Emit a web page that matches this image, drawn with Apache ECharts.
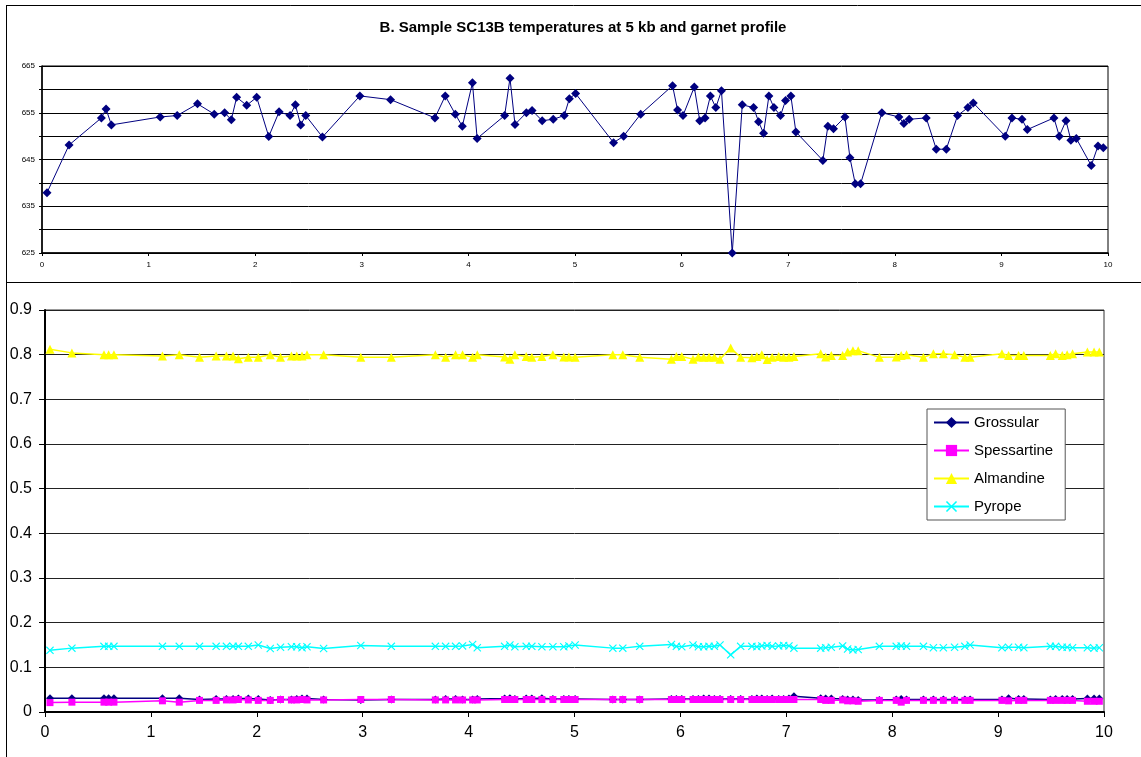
<!DOCTYPE html>
<html>
<head>
<meta charset="utf-8">
<script src="https://cdn.jsdelivr.net/npm/echarts@6/dist/echarts.min.js"></script>
<style>
html,body{margin:0;padding:0;background:#fff;}
#chart{width:1141px;height:757px;}
</style>
</head>
<body>
<div id="chart"></div>
<script>
const titleText = "B. Sample SC13B temperatures at 5 kb and garnet profile";
const seriesNames = ["Grossular", "Spessartine", "Almandine", "Pyrope"];

const distance = [0.047,0.254,0.557,0.601,0.651,1.109,1.268,1.459,1.616,1.713,
1.776,1.826,1.920,2.014,2.127,2.224,2.327,2.377,2.427,2.474,
2.631,2.982,3.270,3.686,3.783,3.877,3.943,4.038,4.082,4.340,
4.390,4.437,4.544,4.597,4.692,4.796,4.899,4.947,5.006,5.362,
5.456,5.616,5.915,5.962,6.013,6.119,6.170,6.220,6.270,6.321,
6.374,6.475,6.569,6.675,6.722,6.769,6.819,6.866,6.928,6.975,
7.025,7.072,7.325,7.372,7.425,7.532,7.579,7.629,7.679,7.879,
8.038,8.085,8.135,8.295,8.389,8.483,8.589,8.686,8.736,9.036,
9.099,9.193,9.243,9.493,9.543,9.606,9.652,9.703,9.843,9.906,9.956];

const temperature = [637.9,648.1,653.9,655.8,652.4,654.1,654.4,656.9,654.7,655.0,
653.5,658.3,656.6,658.3,649.9,655.2,654.4,656.7,652.4,654.4,
649.8,658.6,657.8,653.9,658.6,654.7,652.1,661.4,649.5,654.4,
662.4,652.5,655.0,655.5,653.3,653.6,654.4,658.0,659.1,648.6,
650.0,654.7,660.8,655.6,654.4,660.5,653.3,653.9,658.6,656.1,
659.7,625.0,656.7,656.1,653.1,650.6,658.6,656.1,654.4,657.6,
658.6,650.9,644.8,652.1,651.6,654.1,645.4,639.8,639.8,655.0,
654.1,652.7,653.6,653.9,647.2,647.2,654.4,656.1,657.1,650.0,
653.9,653.6,651.4,653.9,650.0,653.3,649.1,649.5,643.7,647.9,647.5];

const grossular = [0.031,0.031,0.031,0.031,0.031,0.031,0.031,0.028,0.029,0.029,
0.029,0.030,0.030,0.029,0.027,0.028,0.028,0.029,0.030,0.030,
0.028,0.027,0.028,0.028,0.029,0.029,0.028,0.028,0.029,0.030,
0.031,0.029,0.030,0.030,0.031,0.029,0.029,0.029,0.029,0.028,
0.028,0.028,0.029,0.029,0.029,0.029,0.029,0.030,0.030,0.029,
0.029,0.029,0.029,0.029,0.030,0.030,0.029,0.030,0.029,0.029,
0.030,0.035,0.031,0.030,0.030,0.029,0.028,0.028,0.027,0.027,
0.028,0.029,0.028,0.028,0.028,0.028,0.028,0.028,0.028,0.028,
0.031,0.029,0.029,0.028,0.029,0.029,0.029,0.029,0.030,0.030,0.030];

const spessartine = [0.021,0.022,0.022,0.022,0.022,0.025,0.022,0.026,0.026,0.027,
0.027,0.028,0.027,0.026,0.026,0.028,0.027,0.027,0.028,0.027,
0.027,0.028,0.028,0.027,0.027,0.027,0.027,0.027,0.027,0.028,
0.028,0.028,0.028,0.028,0.028,0.028,0.028,0.028,0.028,0.028,
0.028,0.028,0.028,0.028,0.028,0.028,0.028,0.028,0.028,0.028,
0.028,0.028,0.028,0.028,0.028,0.028,0.028,0.028,0.028,0.028,
0.028,0.028,0.028,0.026,0.026,0.027,0.025,0.025,0.024,0.026,
0.026,0.022,0.026,0.026,0.026,0.026,0.026,0.026,0.026,0.026,
0.025,0.026,0.026,0.026,0.026,0.026,0.026,0.026,0.024,0.024,0.024];

const almandine = [0.812,0.804,0.800,0.800,0.800,0.797,0.800,0.794,0.797,0.797,
0.797,0.791,0.794,0.794,0.800,0.794,0.797,0.797,0.797,0.800,
0.800,0.794,0.794,0.800,0.794,0.800,0.800,0.794,0.800,0.795,
0.790,0.800,0.796,0.794,0.796,0.800,0.795,0.795,0.794,0.800,
0.800,0.794,0.790,0.796,0.796,0.790,0.795,0.794,0.794,0.794,
0.790,0.815,0.794,0.793,0.796,0.800,0.789,0.794,0.796,0.794,
0.794,0.796,0.802,0.795,0.798,0.798,0.806,0.809,0.809,0.794,
0.795,0.798,0.800,0.794,0.802,0.802,0.800,0.794,0.794,0.802,
0.798,0.798,0.798,0.798,0.802,0.798,0.800,0.802,0.806,0.806,0.806];

const pyrope = [0.138,0.143,0.147,0.147,0.147,0.147,0.147,0.147,0.147,0.147,
0.147,0.147,0.147,0.150,0.142,0.145,0.146,0.146,0.144,0.146,
0.142,0.149,0.147,0.147,0.147,0.147,0.148,0.151,0.144,0.147,
0.150,0.146,0.147,0.147,0.146,0.146,0.146,0.148,0.150,0.143,
0.143,0.147,0.151,0.147,0.146,0.150,0.146,0.146,0.147,0.147,
0.150,0.128,0.147,0.147,0.146,0.148,0.149,0.147,0.148,0.149,
0.148,0.143,0.143,0.144,0.145,0.148,0.141,0.139,0.140,0.147,
0.147,0.148,0.147,0.147,0.144,0.144,0.145,0.147,0.150,0.144,
0.145,0.145,0.144,0.147,0.147,0.145,0.145,0.144,0.144,0.143,0.144];

const pair = arr => distance.map((d, i) => [d, arr[i]]);
const FONT = "'Liberation Sans', Arial, sans-serif";
const crossPath = 'path://M0,1 L1,0 L5,4 L9,0 L10,1 L6,5 L10,9 L9,10 L5,6 L1,10 L0,9 L4,5 Z';

const chart = echarts.init(document.getElementById('chart'), null, {renderer: 'canvas'});
const option = {
  animation: false,
  backgroundColor: '#fff',
  title: {
    text: titleText, left: 578, top: 15, textAlign: 'center',
    textStyle: {fontFamily: FONT, fontSize: 15, fontWeight: 'bold', color: '#000'}
  },
  graphic: [
    {type: 'line', shape: {x1: 6.5, y1: 5.5, x2: 1141, y2: 5.5}, style: {stroke: '#000', lineWidth: 1}},
    {type: 'line', shape: {x1: 6.5, y1: 5, x2: 6.5, y2: 757}, style: {stroke: '#000', lineWidth: 1}},
    {type: 'line', shape: {x1: 6.5, y1: 282.5, x2: 1141, y2: 282.5}, style: {stroke: '#000', lineWidth: 1}}
  ],
  legend: {
    show: true, orient: 'vertical', left: 927, top: 409,
    padding: [6, 12, 6, 6], itemGap: 13, itemWidth: 35, itemHeight: 14,
    backgroundColor: '#fff', borderColor: '#555', borderWidth: 1, borderRadius: 0,
    textStyle: {fontFamily: FONT, fontSize: 15, color: '#000', lineHeight: 14},
    data: seriesNames
  },
  grid: [
    {left: 42, top: 66, width: 1066, height: 187, show: true, borderColor: '#000', borderWidth: 1, backgroundColor: '#fff'},
    {left: 45, top: 310, width: 1059, height: 402, show: true, borderColor: '#333', borderWidth: 1, backgroundColor: '#fff'}
  ],
  xAxis: [
    {gridIndex: 0, type: 'value', min: 0, max: 10, interval: 1,
     axisLine: {show: true, onZero: false, lineStyle: {color: '#000', width: 1.5}},
     axisTick: {show: true, length: 3, lineStyle: {color: '#000'}},
     axisLabel: {fontFamily: FONT, fontSize: 8, color: '#000', margin: 8},
     splitLine: {show: false}},
    {gridIndex: 1, type: 'value', min: 0, max: 10, interval: 1,
     axisLine: {show: true, onZero: false, lineStyle: {color: '#000', width: 2}},
     axisTick: {show: true, length: 5, lineStyle: {color: '#000', width: 1}},
     axisLabel: {fontFamily: FONT, fontSize: 16, color: '#000', margin: 13},
     splitLine: {show: false}}
  ],
  yAxis: [
    {gridIndex: 0, type: 'value', min: 625, max: 665, interval: 5,
     axisLine: {show: true, onZero: false, lineStyle: {color: '#000', width: 1.5}},
     axisTick: {show: true, length: 3, interval: 1, lineStyle: {color: '#000'}},
     axisLabel: {fontFamily: FONT, fontSize: 8, color: '#000', margin: 7, interval: 1,
       formatter: v => ((v - 625) % 10 === 0 ? String(v) : '')},
     splitLine: {show: true, lineStyle: {color: '#000', width: 1}}},
    {gridIndex: 1, type: 'value', min: 0, max: 0.9, interval: 0.1,
     axisLine: {show: true, onZero: false, lineStyle: {color: '#000', width: 2}},
     axisTick: {show: true, length: 6, lineStyle: {color: '#000'}},
     axisLabel: {fontFamily: FONT, fontSize: 16, color: '#000', margin: 13,
       formatter: v => (Math.round(v * 10) / 10).toString()},
     splitLine: {show: true, lineStyle: {color: '#222', width: 1}}}
  ],
  series: [
    {name: 'Temperature', type: 'line', xAxisIndex: 0, yAxisIndex: 0, data: pair(temperature),
     symbol: 'diamond', symbolSize: 9, showAllSymbol: true,
     lineStyle: {color: '#000080', width: 1}, itemStyle: {color: '#000080'}},
    {name: seriesNames[0], type: 'line', xAxisIndex: 1, yAxisIndex: 1, data: pair(grossular),
     symbol: 'diamond', symbolSize: 8, showAllSymbol: true,
     lineStyle: {color: '#000080', width: 1.5}, itemStyle: {color: '#000080'}},
    {name: seriesNames[1], type: 'line', xAxisIndex: 1, yAxisIndex: 1, data: pair(spessartine),
     symbol: 'rect', symbolSize: 7, showAllSymbol: true,
     lineStyle: {color: '#FF00FF', width: 1.5}, itemStyle: {color: '#FF00FF'}},
    {name: seriesNames[2], type: 'line', xAxisIndex: 1, yAxisIndex: 1, data: pair(almandine),
     symbol: 'triangle', symbolSize: 9, showAllSymbol: true,
     lineStyle: {color: '#FFFF00', width: 1.5}, itemStyle: {color: '#FFFF00'}},
    {name: seriesNames[3], type: 'line', xAxisIndex: 1, yAxisIndex: 1, data: pair(pyrope),
     symbol: crossPath, symbolSize: 8, showAllSymbol: true,
     lineStyle: {color: '#00FFFF', width: 1.5}, itemStyle: {color: '#00FFFF'}}
  ]
};
chart.setOption(option);
</script>
</body>
</html>
